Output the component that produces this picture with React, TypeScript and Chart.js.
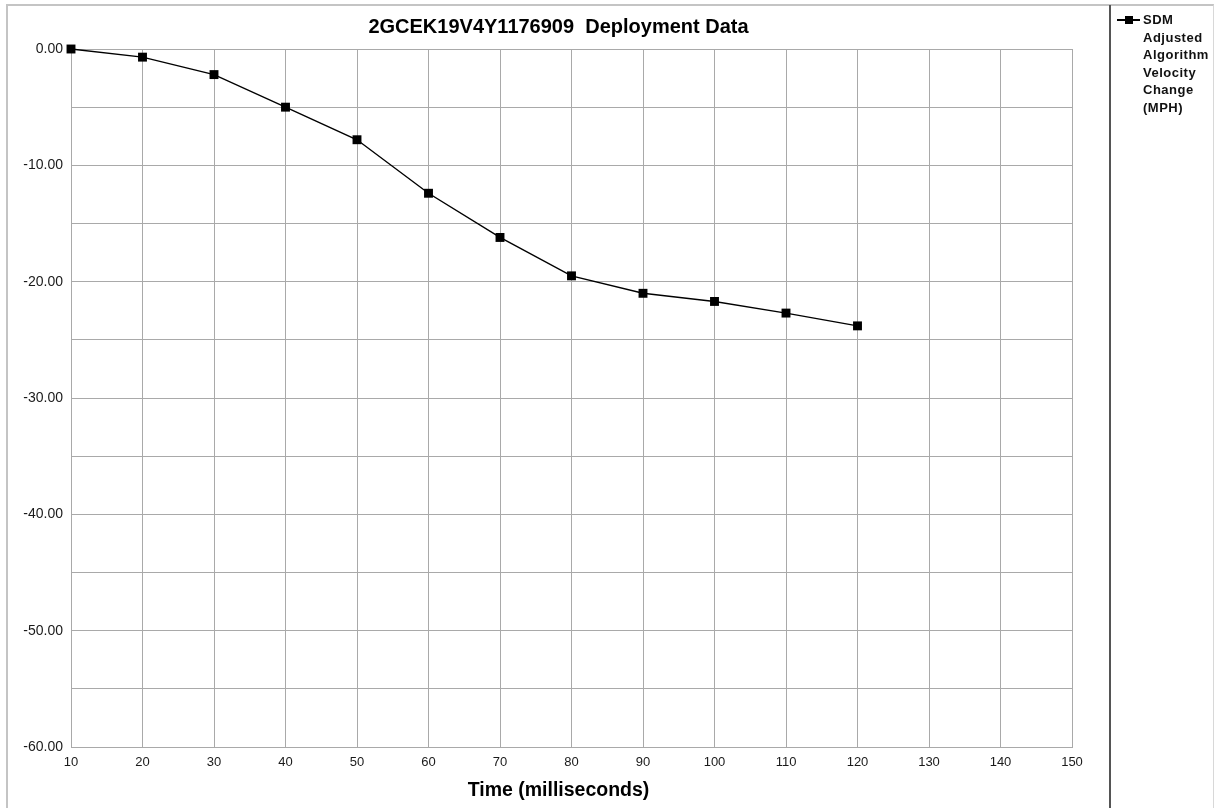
import React, { useEffect, useRef } from "react";
import { Chart, registerables } from "chart.js";

Chart.register(...registerables);

const chartTitle = "2GCEK19V4Y1176909  Deployment Data";
const xAxisTitle = "Time (milliseconds)";
const seriesLabel = ["SDM", "Adjusted", "Algorithm", "Velocity", "Change", "(MPH)"];

const timesMs = [10, 20, 30, 40, 50, 60, 70, 80, 90, 100, 110, 120];
const velocityChange = [0.0, -0.7, -2.2, -5.0, -7.8, -12.4, -16.2, -19.5, -21.0, -21.7, -22.7, -23.8];

const xMin = 10;
const xMax = 150;
const xStep = 10;
const yMin = -60;
const yMax = 0;
const yStep = 5;
const yLabelEvery = 10;

const FONT = "'Liberation Sans', Arial, Helvetica, sans-serif";
const GRID = "#a9a9a9";

export default function App() {
  const canvasRef = useRef<HTMLCanvasElement | null>(null);

  useEffect(() => {
    const canvas = canvasRef.current;
    if (!canvas) return;
    const chart = new Chart(canvas, {
      type: "line",
      data: {
        datasets: [
          {
            label: seriesLabel.join(" "),
            data: timesMs.map((t, i) => ({ x: t, y: velocityChange[i] })),
            borderColor: "#000000",
            backgroundColor: "#000000",
            borderWidth: 1.4,
            tension: 0,
            clip: false,
            pointStyle: "rect",
            pointRadius: 6.3,
            pointBackgroundColor: "#000000",
            pointBorderColor: "#000000",
            pointBorderWidth: 0,
            yAxisID: "y",
          },
        ],
      },
      options: {
        responsive: false,
        animation: false,
        events: [],
        layout: { padding: 0 },
        plugins: {
          legend: { display: false },
          tooltip: { enabled: false },
          title: {
            display: true,
            text: chartTitle,
            color: "#000000",
            font: { family: FONT, size: 20, weight: "bold" },
            padding: { top: 15, bottom: 10 },
          },
          subtitle: {
            display: true,
            position: "bottom",
            text: xAxisTitle,
            color: "#000000",
            font: { family: FONT, size: 19.5, weight: "bold" },
            padding: { top: 0, bottom: 6 },
          },
        },
        scales: {
          x: {
            type: "linear",
            min: xMin,
            max: xMax,
            grid: { color: GRID, lineWidth: 1, drawTicks: false },
            border: { color: GRID, width: 1 },
            ticks: {
              stepSize: xStep,
              autoSkip: false,
              maxRotation: 0,
              padding: 8,
              color: "#1a1a1a",
              font: { family: FONT, size: 13 },
            },
          },
          y: {
            type: "linear",
            position: "left",
            min: yMin,
            max: yMax,
            grid: { color: GRID, lineWidth: 1, drawTicks: false },
            border: { color: GRID, width: 1 },
            afterFit: (scale: any) => {
              scale.width = 64;
            },
            ticks: {
              stepSize: yStep,
              autoSkip: false,
              padding: 8,
              color: "#1a1a1a",
              font: { family: FONT, size: 14 },
              callback: (v: any) => {
                const n = Number(v);
                return Math.abs(n % yLabelEvery) < 1e-9 ? (n === 0 ? 0 : n).toFixed(2) : "";
              },
            },
          },
          spacer: {
            type: "linear",
            position: "right",
            min: yMin,
            max: yMax,
            grid: { display: false, drawTicks: false },
            border: { display: false },
            ticks: { display: false },
            afterFit: (scale: any) => {
              scale.width = 38;
            },
          },
        },
      },
    });
    return () => chart.destroy();
  }, []);

  return (
    <div
      style={{
        position: "fixed",
        left: 0,
        top: 0,
        width: 1217,
        height: 808,
        background: "#ffffff",
        overflow: "hidden",
      }}
    >
      <canvas
        ref={canvasRef}
        width={1103}
        height={808}
        style={{ position: "absolute", left: 7, top: 0, width: 1103, height: 808 }}
      />
      {/* outer frame */}
      <div
        style={{
          position: "absolute",
          left: 6,
          top: 4,
          width: 1205,
          height: 802,
          borderTop: "2px solid #c4c4c4",
          borderLeft: "2px solid #c4c4c4",
          borderRight: "1px solid #d8d8d8",
          borderBottom: "1px solid #e4e4e4",
          pointerEvents: "none",
        }}
      />
      {/* legend divider */}
      <div
        style={{
          position: "absolute",
          left: 1109,
          top: 5,
          width: 2,
          height: 803,
          background: "#555555",
        }}
      />
      {/* legend */}
      <div style={{ position: "absolute", left: 1117, top: 11, display: "flex", alignItems: "flex-start" }}>
        <div style={{ position: "relative", width: 26, height: 18 }}>
          <div style={{ position: "absolute", left: 0, top: 8, width: 23, height: 1.5, background: "#000" }} />
          <div style={{ position: "absolute", left: 7.5, top: 4.5, width: 8, height: 8, background: "#000" }} />
        </div>
        <div
          style={{
            fontFamily: FONT,
            fontWeight: "bold",
            fontSize: 13,
            lineHeight: "17.6px",
            letterSpacing: "0.5px",
            color: "#111",
          }}
        >
          {seriesLabel.map((s, i) => (
            <div key={i}>{s}</div>
          ))}
        </div>
      </div>
    </div>
  );
}
